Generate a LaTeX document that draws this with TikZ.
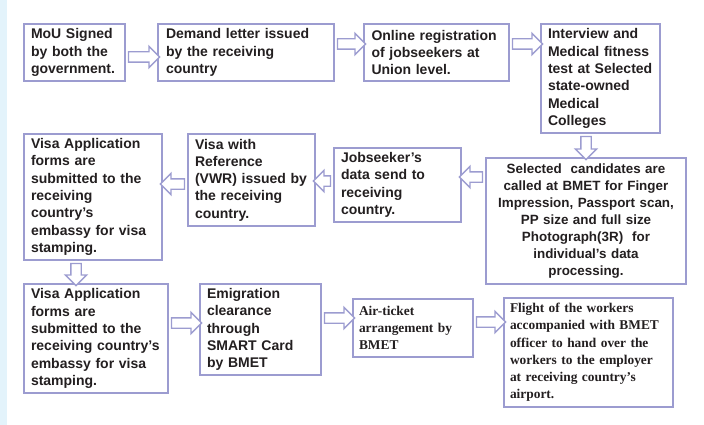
\documentclass[tikz,border=0pt]{standalone}
\usepackage{fontspec}
\setmainfont{Liberation Sans}
\newfontfamily\tnr{Liberation Serif}
\usetikzlibrary{shapes.arrows,calc}
\definecolor{bcol}{HTML}{9C9CD0}
\definecolor{tcol}{HTML}{231F20}
\definecolor{stripcol}{HTML}{E3F3FB}
\tikzset{
  box/.style={draw=bcol, line width=1.8pt, fill=white, text=tcol,
    font=\fontsize{14}{17.3}\selectfont\bfseries, align=left,
    inner xsep=7pt, inner ysep=2pt, anchor=center},
  tbox/.style={box, inner xsep=6pt, font=\fontsize{13.4}{17.2}\selectfont\tnr\bfseries},
  barr/.style={single arrow, draw=bcol, fill=white, line width=1.4pt,
    inner xsep=0pt, inner ysep=4.5pt, single arrow head extend=5.5pt,
    sloped, allow upside down, anchor=center}
}
\newcommand\barrow[2]{\path let \p1=(#1), \p2=(#2), \n1={veclen(\x2-\x1,\y2-\y1)} in (\p1) -- node[barr, minimum height=\n1] {} (\p2);}
\begin{document}
\begin{tikzpicture}[x=1pt,y=-1pt]
\useasboundingbox (0,0) rectangle (704,425);
\fill[stripcol] (0,0) rectangle (7,425);

\node[box, minimum width=101pt, minimum height=57pt, text width=87pt] (b1) at (74.5,52.5) {MoU Signed\\by both the\\government.};
\node[box, minimum width=176pt, minimum height=57pt, text width=160pt] (b2) at (246,52.5) {Demand letter issued\\by the receiving\\country};
\node[box, minimum width=145pt, minimum height=57pt, text width=130pt] (b3) at (436.5,52.5) {Online registration\\of jobseekers at\\Union level.};
\node[box, minimum width=119pt, minimum height=109pt, text width=105pt] (b4) at (600.5,78.5) {Interview and\\Medical fitness\\test at Selected\\state-owned\\Medical\\Colleges};
\node[box, align=center, inner xsep=5pt, font=\fontsize{13.4}{17.1}\selectfont\bfseries, minimum width=200pt, minimum height=126pt, text width=190pt] (b5) at (586,221) {Selected\ \ candidates are\\called at BMET for Finger\\Impression, Passport scan,\\PP size and full size\\Photograph(3R)\ \ for\\individual’s data\\processing.};
\node[box, minimum width=127pt, minimum height=74pt, text width=113pt] (b6) at (397.5,185) {Jobseeker’s\\data send to\\receiving\\country.};
\node[box, minimum width=127pt, minimum height=92pt, text width=113pt] (b7) at (251.5,180) {Visa with\\Reference\\(VWR) issued by\\the receiving\\country.};
\node[box, minimum width=138pt, minimum height=126pt, text width=124pt] (b8) at (93,197) {Visa Application\\forms are\\submitted to the\\receiving\\country’s\\embassy for visa\\stamping.};
\node[box, minimum width=144pt, minimum height=109pt, text width=130pt] (b9) at (96,338.5) {Visa Application\\forms are\\submitted to the\\receiving country’s\\embassy for visa\\stamping.};
\node[box, minimum width=121pt, minimum height=91pt, text width=107pt] (b10) at (260.5,329.5) {Emigration\\clearance\\through\\SMART Card\\by BMET};
\node[tbox, minimum width=120pt, minimum height=58pt, text width=108pt] (b11) at (413,328) {Air-ticket\\arrangement by\\BMET};
\node[tbox, minimum width=169pt, minimum height=109pt, text width=157pt] (b12) at (588.5,352.5) {Flight of the workers\\accompanied with BMET\\officer to hand over the\\workers to the employer\\at receiving country’s\\airport.};

\barrow{b1.east |- 0,57}{b2.west |- 0,57}
\barrow{b2.east |- 0,44}{b3.west |- 0,44}
\barrow{b3.east |- 0,44}{b4.west |- 0,44}
\barrow{586,0 |- b4.south}{586,0 |- b5.north}
\barrow{b5.west |- 0,177}{b6.east |- 0,177}
\barrow{b6.west |- 0,181}{b7.east |- 0,181}
\barrow{b7.west |- 0,184}{b8.east |- 0,184}
\barrow{76,0 |- b8.south}{76,0 |- b9.north}
\barrow{b9.east |- 0,323}{b10.west |- 0,323}
\barrow{b10.east |- 0,318}{b11.west |- 0,318}
\barrow{b11.east |- 0,322}{b12.west |- 0,322}
\end{tikzpicture}
\end{document}
